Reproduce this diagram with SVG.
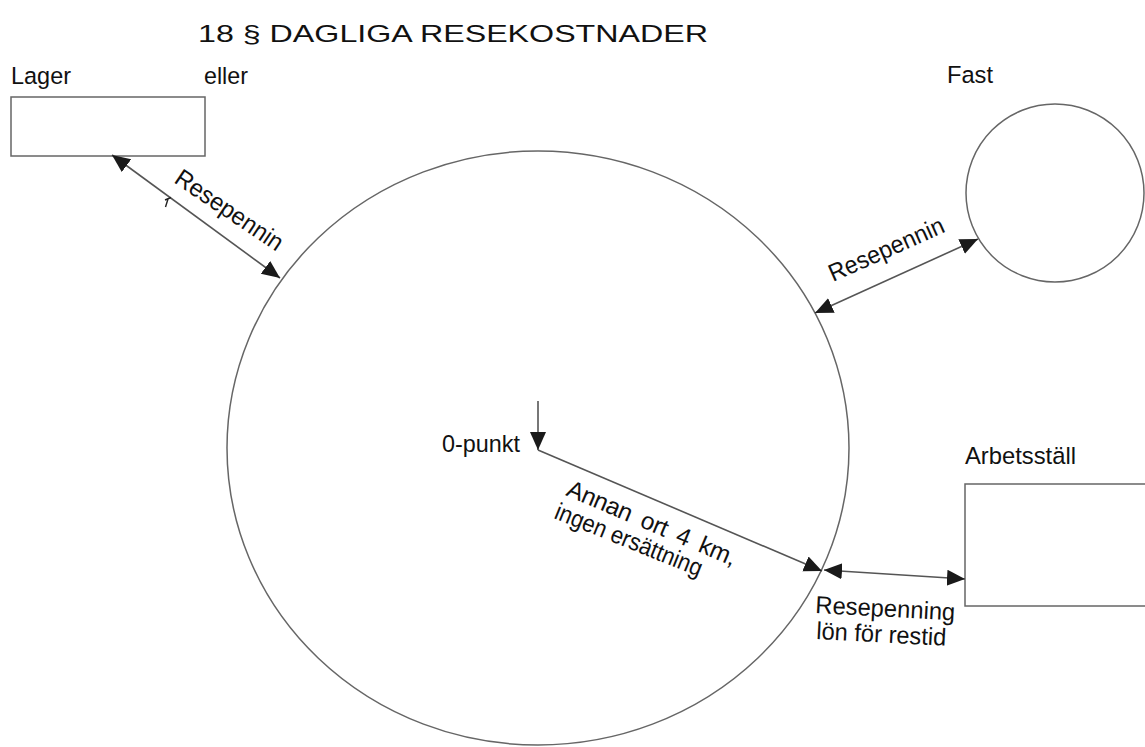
<svg xmlns="http://www.w3.org/2000/svg" width="1145" height="747" viewBox="0 0 1145 747">
<defs>
<style>
text{font-family:"Liberation Sans",Arial,sans-serif;font-size:24.5px;fill:#111}
.shape{fill:#fff;stroke:#666;stroke-width:1.5}
.conn{stroke:#555;stroke-width:1.6;fill:none}
</style>
<marker id="ah" markerUnits="userSpaceOnUse" markerWidth="20" markerHeight="18" refX="18" refY="8" orient="auto-start-reverse" viewBox="0 0 20 16">
<path d="M0,0 L18,8 L0,16 Z" fill="#1a1a1a"/>
</marker>
</defs>
<rect width="1145" height="747" fill="#fff"/>
<text x="198" y="42" font-size="32" textLength="510" lengthAdjust="spacingAndGlyphs">18 § DAGLIGA RESEKOSTNADER</text>

<g id="lager">
<rect class="shape" x="11" y="97" width="194" height="59"/>
<text x="11" y="84" textLength="60" lengthAdjust="spacingAndGlyphs">Lager</text>
<text x="204" y="84" textLength="44" lengthAdjust="spacingAndGlyphs">eller</text>
</g>

<g id="ort">
<ellipse class="shape" cx="538" cy="448" rx="311" ry="297"/>
<text x="442" y="452" textLength="78" lengthAdjust="spacingAndGlyphs">0-punkt</text>
</g>

<g id="fast">
<circle class="shape" cx="1055" cy="193" r="89"/>
<text x="947" y="83" textLength="46" lengthAdjust="spacingAndGlyphs">Fast</text>
</g>

<g id="arbetsstall">
<rect class="shape" x="965" y="484" width="200" height="122"/>
<text x="965" y="464" textLength="111" lengthAdjust="spacingAndGlyphs">Arbetsställ</text>
</g>

<g id="connectors">
<line class="conn" x1="112" y1="155" x2="280" y2="278" marker-start="url(#ah)" marker-end="url(#ah)"/>
<line class="conn" x1="815" y1="313" x2="978" y2="239" marker-start="url(#ah)" marker-end="url(#ah)"/>
<line class="conn" x1="824" y1="570" x2="965" y2="579" marker-start="url(#ah)" marker-end="url(#ah)"/>
<line class="conn" x1="538" y1="401" x2="538" y2="450" marker-end="url(#ah)"/>
<line class="conn" x1="538" y1="450" x2="822" y2="571" marker-end="url(#ah)"/>
<path d="M165,200 L171,197.5 M168,199 L165.5,207" stroke="#222" stroke-width="1.4" fill="none"/>
<text transform="translate(173,182) rotate(34)" textLength="125" lengthAdjust="spacingAndGlyphs">Resepennin</text>
<text transform="translate(833,282) rotate(-24)" textLength="124" lengthAdjust="spacingAndGlyphs">Resepennin</text>
<text transform="translate(565,495) rotate(23)" textLength="182" lengthAdjust="spacing" word-spacing="5">Annan ort 4 km,</text>
<text transform="translate(553,518) rotate(22)" textLength="157" lengthAdjust="spacingAndGlyphs">ingen ersättning</text>
<text transform="translate(815,613) rotate(3)" textLength="140" lengthAdjust="spacingAndGlyphs">Resepenning</text>
<text transform="translate(816,639) rotate(3)" textLength="130" lengthAdjust="spacingAndGlyphs">lön för restid</text>
</g>
</svg>
